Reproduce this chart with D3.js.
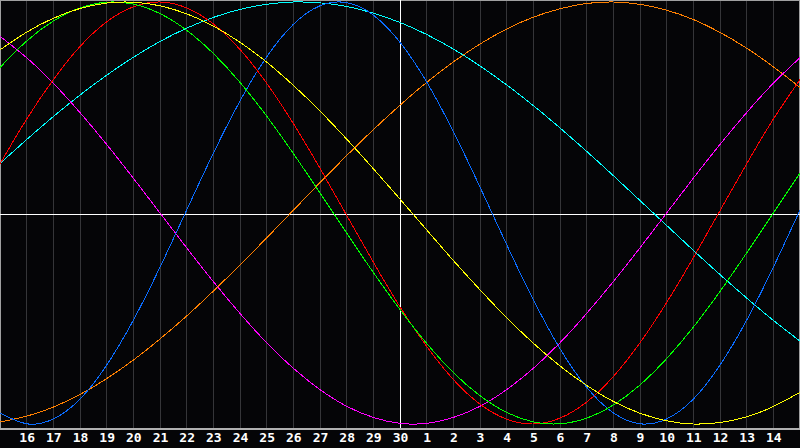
<!DOCTYPE html>
<html>
<head>
<meta charset="utf-8">
<script src="https://cdn.jsdelivr.net/npm/d3@7"></script>
<style>
  html, body { margin: 0; padding: 0; background: #050507; }
  svg { display: block; }
</style>
</head>
<body>
<svg id="chart" width="800" height="448"></svg>
<script>
// Day labels along the bottom (positions 1..29 of a 30-day window)
const dayLabels = [16,17,18,19,20,21,22,23,24,25,26,27,28,29,30,1,2,3,4,5,6,7,8,9,10,11,12,13,14];
// Day index of each sample (0..30) (-1..1)
const dayIndex = d3.range(0, 31);

const seriesNames = ["physical","emotional","intellectual","intuitive","aesthetic","awareness","spiritual"];
const seriesColors = ["#0a6cff","#ff0000","#00ff00","#ff00ff","#ffff00","#ff8000","#00ffff"];

const physical = [-0.947,-0.999,-0.976,-0.882,-0.721,-0.508,-0.257,0.014,0.283,0.531,0.740,0.894,0.982,0.997,0.938,0.809,0.621,0.386,0.123,-0.150,-0.411,-0.643,-0.826,-0.947,-0.999,-0.976,-0.882,-0.721,-0.508,-0.257,0.014];
const emotional = [0.233,0.445,0.632,0.789,0.906,0.977,1.000,0.972,0.896,0.775,0.615,0.424,0.212,-0.011,-0.233,-0.445,-0.632,-0.789,-0.906,-0.977,-1.000,-0.972,-0.896,-0.775,-0.615,-0.424,-0.212,0.011,0.233,0.445,0.632];
const intellectual = [0.690,0.815,0.910,0.972,0.999,0.990,0.945,0.866,0.756,0.619,0.459,0.282,0.095,-0.095,-0.282,-0.458,-0.618,-0.756,-0.866,-0.945,-0.990,-0.999,-0.972,-0.910,-0.815,-0.690,-0.541,-0.372,-0.189,0.000,0.189];
const intuitive = [0.837,0.736,0.615,0.476,0.325,0.165,0.000,-0.165,-0.325,-0.476,-0.615,-0.736,-0.837,-0.916,-0.969,-0.997,-0.997,-0.969,-0.916,-0.837,-0.736,-0.615,-0.476,-0.325,-0.165,0.000,0.165,0.325,0.476,0.615,0.736];
const aesthetic = [0.773,0.857,0.923,0.969,0.995,0.999,0.982,0.944,0.886,0.809,0.715,0.605,0.483,0.350,0.210,0.066,-0.080,-0.225,-0.364,-0.496,-0.617,-0.725,-0.817,-0.893,-0.949,-0.985,-1.000,-0.993,-0.966,-0.917,-0.850];
const awareness = [-0.990,-0.963,-0.920,-0.860,-0.785,-0.697,-0.597,-0.488,-0.370,-0.246,-0.118,0.013,0.144,0.272,0.395,0.511,0.619,0.716,0.801,0.872,0.928,0.968,0.993,1.000,0.989,0.961,0.917,0.856,0.781,0.693,0.595];
const spiritual = [0.235,0.348,0.457,0.559,0.653,0.738,0.813,0.876,0.927,0.965,0.989,1.000,0.996,0.979,0.947,0.903,0.846,0.777,0.697,0.607,0.509,0.403,0.292,0.177,0.059,-0.059,-0.177,-0.292,-0.403,-0.509,-0.607];

const seriesValues = [physical, emotional, intellectual, intuitive, aesthetic, awareness, spiritual];
const drawOrder = [6, 5, 3, 0, 1, 2, 4];

const W = 800, plotH = 428;
const svg = d3.select("#chart");

svg.append("rect").attr("x",0).attr("y",0).attr("width",800).attr("height",448).attr("fill","#050507");

const x = d3.scaleLinear().domain([0, 30]).range([0, W]);
const y = d3.scaleLinear().domain([-1, 1]).range([424, 2]);

// vertical grid
const grid = svg.append("g").attr("transform", `translate(0,${plotH})`)
  .call(d3.axisBottom(x).tickValues(d3.range(1, 30)).tickSize(-plotH).tickFormat(""));
grid.select(".domain").remove();
grid.selectAll(".tick line").attr("stroke", "#353538").attr("stroke-width", 1)
  .attr("shape-rendering", "crispEdges");
grid.selectAll(".tick").attr("transform", d => `translate(${Math.floor(x(d)) + 0.5},0)`);

// labels
const lab = svg.append("g").attr("transform", `translate(0,${plotH})`)
  .call(d3.axisBottom(x).tickValues(d3.range(1, 30)).tickSize(0).tickPadding(5)
    .tickFormat((d, i) => dayLabels[i]));
lab.select(".domain").remove();
lab.selectAll(".tick text").attr("fill", "#ffffff")
  .style("font-family", "'DejaVu Sans Mono', monospace")
  .style("font-weight", "bold").style("font-size", "13px");

// frame
svg.append("path")
  .attr("d", `M0.5,${plotH}V0.5H799.5V${plotH}`)
  .attr("fill", "none").attr("stroke", "#a0a0a0").attr("stroke-width", 1)
  .attr("shape-rendering", "crispEdges");
svg.append("line").attr("x1", 0).attr("x2", 800).attr("y1", plotH + 0.5).attr("y2", plotH + 0.5)
  .attr("stroke", "#b0b0b0").attr("stroke-width", 2).attr("shape-rendering", "crispEdges");

// center lines
svg.append("line").attr("x1", Math.floor(x(15)) + 0.5).attr("x2", Math.floor(x(15)) + 0.5)
  .attr("y1", 0).attr("y2", plotH).attr("stroke", "#ffffff").attr("stroke-width", 1)
  .attr("shape-rendering", "crispEdges");
svg.append("line").attr("x1", 0).attr("x2", 800).attr("y1", 214.5).attr("y2", 214.5)
  .attr("stroke", "#ffffff").attr("stroke-width", 1).attr("shape-rendering", "crispEdges");

// curves
const line = d3.line().x((d, i) => x(dayIndex[i])).y(d => y(d)).curve(d3.curveNatural);
svg.append("g").selectAll("path").data(drawOrder).join("path")
  .attr("d", i => line(seriesValues[i]))
  .attr("fill", "none")
  .attr("stroke", i => seriesColors[i])
  .attr("stroke-width", 1)
  .attr("shape-rendering", "crispEdges");
</script>
</body>
</html>
